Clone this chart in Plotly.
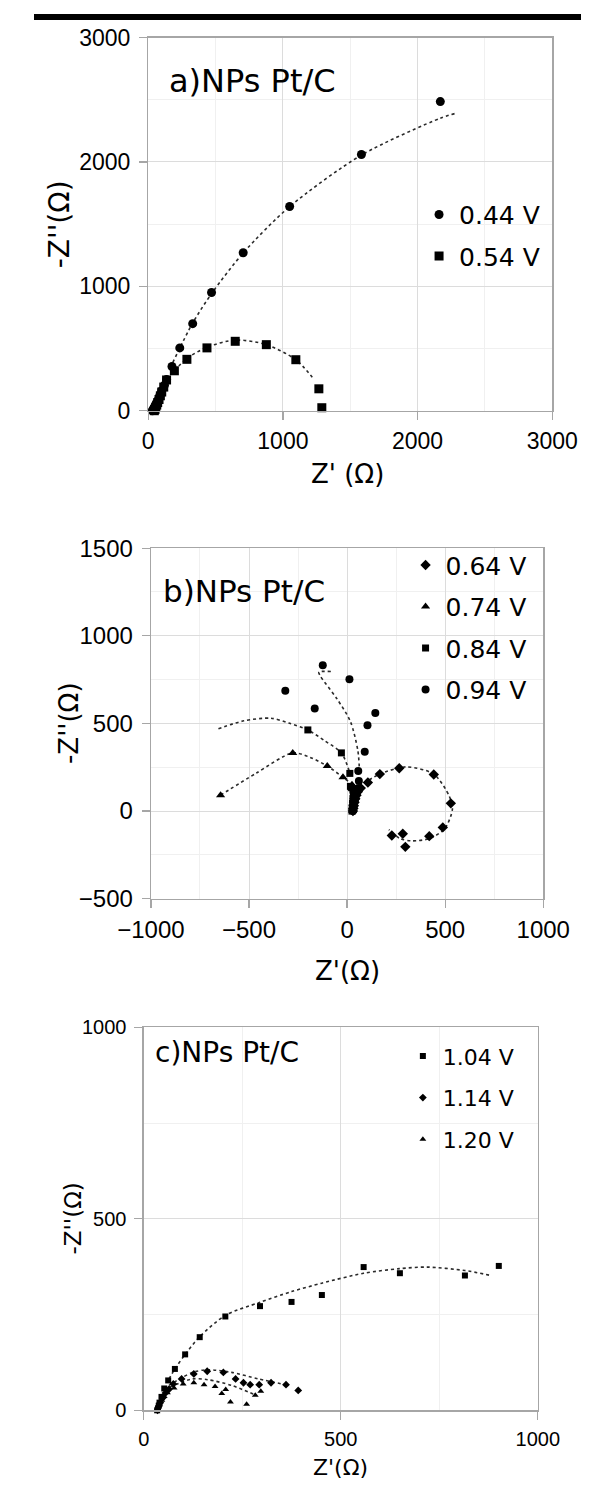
import plotly.graph_objects as go

# ---------------- data ----------------
# Panel a
a044_x = [31, 33, 38, 45, 52, 62, 72, 85, 100, 120, 136, 176, 234, 330, 470, 705, 1050, 1583, 2169]
a044_y = [0, 5, 15, 28, 42, 60, 85, 120, 160, 205, 250, 355, 505, 700, 950, 1270, 1642, 2060, 2485]
a054_x = [45, 50, 56, 63, 70, 80, 90, 100, 115, 136, 194, 287, 436, 646, 877, 1096, 1267, 1289]
a054_y = [0, 10, 25, 45, 65, 90, 120, 150, 190, 247, 321, 413, 505, 558, 531, 410, 176, 24]
a044_fit_x = [182, 330, 476, 708, 1049, 1583, 2169, 2280]
a044_fit_y = [387, 705, 950, 1272, 1640, 2055, 2352, 2390]
a054_fit_x = [194, 287, 436, 646, 877, 1096, 1218]
a054_fit_y = [321, 420, 510, 568, 531, 410, 268]

# Panel b
b064_x = [30, 32, 35, 38, 42, 48, 55, 70, 106, 167, 266, 442, 529, 488, 419, 297, 284, 228]
b064_y = [0, 15, 30, 50, 70, 90, 110, 131, 163, 211, 244, 209, 44, -93, -143, -204, -129, -139]
b064_fit_x = [86, 167, 300, 442, 521, 537, 498, 422, 330, 269, 213]
b064_fit_y = [159, 211, 252, 211, 85, 11, -100, -156, -170, -156, -106]
b074_x = [28, 29, 30, 32, 34, 36, 30, 25, -21, -101, -277, -645]
b074_y = [0, 20, 40, 60, 80, 100, 125, 150, 193, 257, 332, 91]
b074_fit_x = [-645, -465, -277, -190, -101, -21, 9]
b074_fit_y = [91, 215, 332, 307, 257, 193, 168]
b084_x = [25, 26, 28, 30, 32, 30, 22, 17, 14, -29, -200]
b084_y = [0, 20, 45, 70, 95, 120, 135, 141, 215, 332, 463]
b084_fit_x = [-656, -526, -388, -297, -200, -113, -29, 17]
b084_fit_y = [470, 515, 530, 502, 463, 400, 332, 206]
b094_x = [30, 34, 38, 43, 48, 55, 60, 57, 90, 104, 144, 12, -124, -165, -315]
b094_y = [0, 25, 50, 75, 100, 130, 172, 229, 339, 489, 559, 752, 832, 585, 686]
b094_fit_x = [-83, -144, -136, -52, 17, 55, 63]
b094_fit_y = [796, 793, 770, 641, 511, 344, 233]

# Panel c
c104_x = [34, 36, 38, 40, 45, 52, 62, 79, 105, 142, 207, 295, 375, 452, 558, 650, 815, 901]
c104_y = [0, 5, 12, 20, 35, 57, 78, 108, 146, 191, 245, 272, 283, 301, 374, 358, 352, 377]
c104_fit_x = [64, 79, 105, 142, 207, 295, 375, 452, 558, 650, 718, 815, 881]
c104_fit_y = [82, 108, 146, 192, 248, 282, 310, 332, 358, 370, 374, 365, 352]
c114_x = [35, 38, 42, 48, 55, 64, 75, 96, 127, 161, 202, 233, 253, 270, 293, 323, 361, 392]
c114_y = [0, 10, 20, 32, 45, 55, 69, 82, 95, 102, 99, 82, 72, 67, 67, 72, 67, 52]
c114_fit_x = [64, 96, 127, 162, 223, 291, 359]
c114_fit_y = [65, 85, 100, 106, 99, 82, 67]
c120_x = [33, 36, 40, 46, 52, 60, 77, 100, 127, 153, 181, 198, 208, 220, 261, 283, 297]
c120_y = [0, 8, 16, 26, 36, 46, 58, 69, 72, 67, 62, 44, 54, 22, 16, 39, 50]
c120_fit_x = [67, 124, 162, 223, 283]
c120_fit_y = [61, 82, 80, 65, 40]

panel_titles = ["a)NPs Pt/C", "b)NPs Pt/C", "c)NPs Pt/C"]

# ---------------- layout helpers ----------------
W, H = 608, 1494
FONT = "DejaVu Sans"
TICKFONT = "Liberation Sans"


def fx(p):
    return p / W


def fy(p):
    return 1 - p / H


fig = go.Figure()

FIT_LINE = dict(color="#2a2a2a", width=1.6, dash="dot", shape="spline", smoothing=0.8)


def add_series(x, y, name, symbol, size, ax, legend, group):
    fig.add_trace(go.Scatter(
        x=x, y=y, mode="markers", name=name,
        marker=dict(symbol=symbol, size=size, color="black", line=dict(width=0)),
        xaxis="x" + ax, yaxis="y" + ax, legend=legend, legendgroup=group,
        cliponaxis=False, showlegend=True))


def add_fit(x, y, ax):
    fig.add_trace(go.Scatter(
        x=x, y=y, mode="lines", line=FIT_LINE, showlegend=False,
        xaxis="x" + ax, yaxis="y" + ax, hoverinfo="skip", cliponaxis=False))


# Panel a (axis "" -> x / y)
add_fit(a044_fit_x, a044_fit_y, "")
add_fit(a054_fit_x, a054_fit_y, "")
add_series(a044_x, a044_y, "0.44 V", "circle", 9, "", "legend", "a1")
add_series(a054_x, a054_y, "0.54 V", "square", 9, "", "legend", "a2")

# Panel b
add_fit(b064_fit_x, b064_fit_y, "2")
add_fit(b074_fit_x, b074_fit_y, "2")
add_fit(b084_fit_x, b084_fit_y, "2")
add_fit(b094_fit_x, b094_fit_y, "2")
add_series(b064_x, b064_y, "0.64 V", "diamond", 8, "2", "legend2", "b1")
add_series(b074_x, b074_y, "0.74 V", "triangle-up", 8, "2", "legend2", "b2")
add_series(b084_x, b084_y, "0.84 V", "square", 7, "2", "legend2", "b3")
add_series(b094_x, b094_y, "0.94 V", "circle", 8, "2", "legend2", "b4")

# Panel c
add_fit(c104_fit_x, c104_fit_y, "3")
add_fit(c114_fit_x, c114_fit_y, "3")
add_fit(c120_fit_x, c120_fit_y, "3")
add_series(c104_x, c104_y, "1.04 V", "square", 6, "3", "legend3", "c1")
add_series(c114_x, c114_y, "1.14 V", "diamond", 6, "3", "legend3", "c2")
add_series(c120_x, c120_y, "1.20 V", "triangle-up", 6, "3", "legend3", "c3")

AXC = "#a6a6a6"


def axis(domain, rng, dtick, mdtick, tsize, standoff):
    return dict(
        domain=domain, range=rng, dtick=dtick, tick0=0,
        showgrid=True, gridcolor="#dcdcdc", gridwidth=1,
        minor=dict(dtick=mdtick, showgrid=True, gridcolor="#f0f0f0", gridwidth=1, ticks=""),
        showline=True, linecolor=AXC, linewidth=1.3, mirror=True,
        ticks="outside", ticklen=8, tickcolor=AXC, tickwidth=1.2,
        zeroline=False, tickfont=dict(family=TICKFONT, size=tsize, color="black"),
        ticklabelstandoff=standoff, fixedrange=True)


# pixel boxes of the three plot areas
A = dict(l=127, r=576, t=24, b=404)
B = dict(l=130, r=566, t=544, b=901)
C = dict(l=122, r=560, t=1032, b=1422)


def dom(P):
    return [fx(P["l"]), fx(P["r"])], [fy(P["b"]), fy(P["t"])]


ax_a, ay_a = dom(A)
ax_b, ay_b = dom(B)
ax_c, ay_c = dom(C)

layout = dict(
    width=W, height=H, margin=dict(l=0, r=0, t=0, b=0),
    paper_bgcolor="white", plot_bgcolor="white",
    font=dict(family=FONT, color="black"),
    xaxis=dict(axis(ax_a, [0, 3000], 1000, 500, 23, 1), anchor="y"),
    yaxis=dict(axis(ay_a, [0, 3000], 1000, 500, 23, 4), anchor="x"),
    xaxis2=dict(axis(ax_b, [-1000, 1000], 500, 250, 24, 1), anchor="y2"),
    yaxis2=dict(axis(ay_b, [-500, 1500], 500, 250, 24, 4), anchor="x2"),
    xaxis3=dict(axis(ax_c, [0, 1000], 500, 250, 20, 2), anchor="y3"),
    yaxis3=dict(axis(ay_c, [0, 1000], 500, 250, 20, 4), anchor="x3"),
    legend=dict(x=fx(428), y=fy(181), xanchor="left", yanchor="top",
                font=dict(family=FONT, size=25, color="black"),
                bgcolor="rgba(0,0,0,0)", traceorder="grouped", tracegroupgap=6,
                itemclick=False, itemdoubleclick=False),
    legend2=dict(x=fx(413), y=fy(538), xanchor="left", yanchor="top",
                 font=dict(family=FONT, size=25, color="black"),
                 bgcolor="rgba(0,0,0,0)", traceorder="grouped", tracegroupgap=6,
                 itemclick=False, itemdoubleclick=False),
    legend3=dict(x=fx(410), y=fy(1040), xanchor="left", yanchor="top",
                 font=dict(family=FONT, size=22, color="black"),
                 bgcolor="rgba(0,0,0,0)", traceorder="grouped", tracegroupgap=10,
                 itemclick=False, itemdoubleclick=False),
)
fig.update_layout(**layout)

ann = []
# panel titles
for t, (px, py, sz) in zip(panel_titles, [(148, 68, 32), (141, 588, 31), (132, 1058, 28)]):
    ann.append(dict(text=t, x=fx(px), y=fy(py), xref="paper", yref="paper",
                    xanchor="left", yanchor="middle", showarrow=False,
                    font=dict(family=FONT, size=sz, color="black")))
# x-axis titles
for t, (px, py, sz) in zip(["Z' (Ω)", "Z'(Ω)", "Z'(Ω)"], [(349, 468, 26), (349, 975, 26), (341, 1480, 22)]):
    ann.append(dict(text=t, x=fx(px), y=fy(py), xref="paper", yref="paper",
                    xanchor="center", yanchor="middle", showarrow=False,
                    font=dict(family=FONT, size=sz, color="black")))
# y-axis titles
for t, (px, py, sz) in zip(["-Z''(Ω)", "-Z''(Ω)", "-Z''(Ω)"], [(28, 214, 28), (39, 722, 26), (43, 1227, 23)]):
    ann.append(dict(text=t, x=fx(px), y=fy(py), xref="paper", yref="paper",
                    xanchor="center", yanchor="middle", showarrow=False, textangle=-90,
                    font=dict(family=FONT, size=sz, color="black")))
fig.update_layout(annotations=ann)

# thick black rule at the very top of the page
fig.add_shape(type="rect", xref="paper", yref="paper", x0=0, x1=1, y0=fy(6), y1=1,
              fillcolor="black", line=dict(width=0), layer="above")

fig.write_html("out.html", config=dict(displayModeBar=False, staticPlot=True))
